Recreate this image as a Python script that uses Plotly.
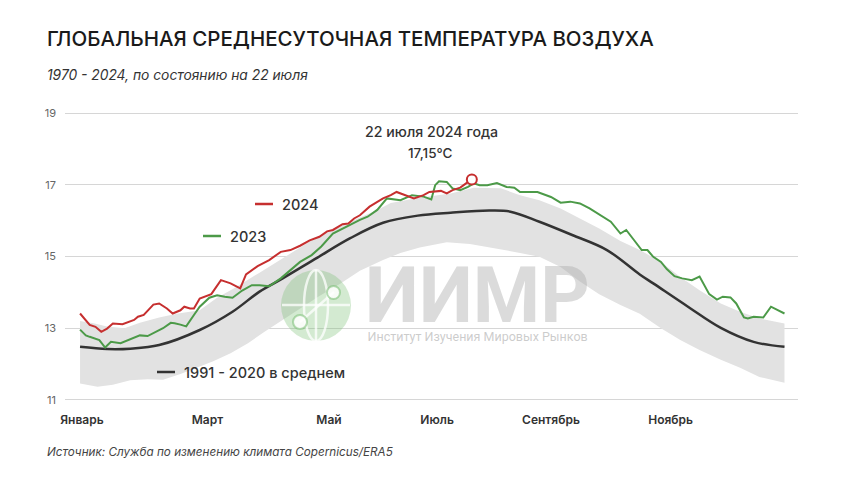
import plotly.graph_objects as go

# Day-of-year readings (1 = 1 January) and temperatures in °C
days_2024 = [1, 4, 6, 9, 12, 15, 18, 23, 26, 29, 31, 34, 39, 42, 46, 49, 53, 55, 58, 60,
             63, 69, 74, 79, 84, 87, 93, 99, 105, 110, 115, 120, 125, 129, 132, 137, 140,
             143, 146, 151, 158, 162, 165, 170, 174, 179, 182, 188, 191, 194, 198, 201, 204]
temp_2024 = [13.41, 13.23, 13.09, 13.04, 12.90, 12.99, 13.13, 13.11, 13.18, 13.23, 13.32,
             13.37, 13.66, 13.69, 13.55, 13.41, 13.50, 13.60, 13.55, 13.55, 13.83, 13.95,
             14.34, 14.25, 14.11, 14.50, 14.73, 14.90, 15.13, 15.18, 15.30, 15.45, 15.55,
             15.70, 15.74, 15.90, 15.92, 16.06, 16.15, 16.39, 16.62, 16.71, 16.80, 16.71,
             16.62, 16.71, 16.80, 16.83, 16.76, 16.85, 16.92, 17.04, 17.15]

days_2023 = [1, 4, 6, 11, 14, 17, 22, 27, 32, 36, 40, 44, 48, 50, 53, 56, 60, 63, 68, 72,
             76, 80, 85, 90, 94, 99, 105, 110, 115, 121, 126, 132, 137, 141, 146, 150, 155,
             160, 163, 167, 173, 179, 183, 185, 187, 191, 194, 198, 202, 205, 208, 212, 217,
             222, 226, 229, 233, 238, 245, 250, 255, 260, 265, 270, 276, 281, 284, 288, 292,
             295, 298, 302, 305, 309, 313, 318, 322, 327, 331, 334, 338, 341, 345, 347, 350,
             355, 359, 362, 366]
temp_2023 = [12.96, 12.80, 12.76, 12.67, 12.46, 12.62, 12.58, 12.70, 12.80, 12.78, 12.90,
             13.00, 13.15, 13.14, 13.10, 13.05, 13.37, 13.60, 13.85, 13.92, 13.88, 13.85,
             14.05, 14.20, 14.20, 14.17, 14.39, 14.62, 14.85, 15.04, 15.28, 15.64, 15.78,
             15.90, 16.02, 16.11, 16.30, 16.62, 16.59, 16.57, 16.71, 16.67, 16.59, 16.99,
             17.10, 17.08, 16.90, 16.85, 16.94, 17.04, 16.99, 16.99, 17.05, 16.94, 16.92,
             16.80, 16.80, 16.80, 16.66, 16.50, 16.53, 16.48, 16.34, 16.18, 15.97, 15.64,
             15.74, 15.46, 15.18, 15.18, 14.99, 14.85, 14.65, 14.45, 14.39, 14.34, 14.44,
             13.95, 13.80, 13.88, 13.86, 13.69, 13.30, 13.27, 13.32, 13.30, 13.60, 13.52,
             13.41]

days_mean = [1, 15, 27, 42, 63, 80, 94, 106, 124, 141, 158, 176, 193, 213, 224, 239, 256,
             274, 291, 298, 316, 333, 350, 366]
temp_mean = [12.48, 12.42, 12.43, 12.53, 12.95, 13.46, 14.02, 14.39, 14.97, 15.51, 15.94,
             16.14, 16.22, 16.28, 16.25, 15.97, 15.60, 15.18, 14.50, 14.25, 13.60, 13.01,
             12.62, 12.48]

# 1970 - 2024 range (grey band)
days_upper = [1, 8, 15, 24, 32, 42, 51, 63, 72, 82, 94, 106, 124, 141, 155, 162, 176, 193,
              205, 219, 229, 239, 250, 260, 270, 281, 291, 302, 312, 322, 333, 343, 353, 366]
temp_upper = [13.20, 13.14, 13.05, 13.00, 13.15, 13.30, 13.40, 13.50, 13.85, 14.15, 14.55,
              14.95, 15.55, 15.97, 16.30, 16.49, 16.63, 16.76, 16.92, 16.90, 16.71, 16.57,
              16.34, 16.06, 15.78, 15.43, 15.18, 14.85, 14.43, 14.06, 13.69, 13.46, 13.27,
              13.13]
days_lower = [1, 10, 18, 27, 36, 44, 53, 62, 70, 79, 88, 96, 105, 115, 125, 136, 146, 158,
              167, 177, 191, 203, 219, 229, 239, 250, 260, 270, 281, 291, 302, 312, 322, 333,
              343, 353, 366]
temp_lower = [11.46, 11.37, 11.42, 11.55, 11.58, 11.56, 11.72, 11.90, 12.08, 12.30, 12.58,
              12.88, 13.20, 13.55, 13.90, 14.25, 14.60, 14.90, 15.10, 15.25, 15.40, 15.35,
              15.20, 15.10, 14.99, 14.71, 14.30, 13.95, 13.65, 13.40, 13.00, 12.67, 12.39,
              12.12, 11.90, 11.64, 11.48]

month_labels = ["Январь", "Март", "Май", "Июль", "Сентябрь", "Ноябрь"]
y_ticks = [11, 13, 15, 17, 19]

RED = "#c62f2f"
GREEN = "#4c9a48"
DARK = "#333333"
BAND = "#e2e2e2"
FONT = "Inter"

# plot area in page pixels, used to place the free-floating labels;
# the page body adds an 8px margin around the figure
W, H, BODY = 860, 484, 8
PL, PR, PT, PB = 65, 798, 112, 401


def px(x):
    return (x - PL) / (PR - PL)


def py(y):
    return (PB - y) / (PB - PT)


fig = go.Figure()
fig.add_trace(go.Scatter(
    x=days_upper + days_lower[::-1], y=temp_upper + temp_lower[::-1],
    fill="toself", fillcolor=BAND, line=dict(width=0), mode="lines",
    hoverinfo="skip", name="1970 - 2024"))
fig.add_trace(go.Scatter(x=days_mean, y=temp_mean, mode="lines", name="1991 - 2020",
                         line=dict(color=DARK, width=2.5, shape="spline")))
fig.add_trace(go.Scatter(x=days_2023, y=temp_2023, mode="lines", name="2023",
                         line=dict(color=GREEN, width=2)))
fig.add_trace(go.Scatter(x=days_2024, y=temp_2024, mode="lines", name="2024",
                         line=dict(color=RED, width=2)))
fig.add_trace(go.Scatter(x=[days_2024[-1]], y=[temp_2024[-1]], mode="markers",
                         marker=dict(size=10, color="white", line=dict(color=RED, width=2))))

WHITE = "rgba(255,255,255,0.75)"
shapes = [
    # globe watermark
    dict(type="circle", x0=px(281), x1=px(351), y0=py(341), y1=py(270),
         fillcolor="rgba(120,190,115,0.33)", line=dict(width=0)),
    dict(type="circle", x0=px(304), x1=px(328), y0=py(341), y1=py(270),
         line=dict(color=WHITE, width=2.5)),
    dict(type="line", x0=px(316), x1=px(316), y0=py(341), y1=py(270),
         line=dict(color=WHITE, width=2.5)),
    dict(type="line", x0=px(282), x1=px(350), y0=py(305), y1=py(305),
         line=dict(color=WHITE, width=2.5)),
    dict(type="line", x0=px(300), x1=px(334), y0=py(322), y1=py(292),
         line=dict(color=WHITE, width=2.5)),
    dict(type="circle", x0=px(293), x1=px(307), y0=py(329), y1=py(315),
         fillcolor="rgba(255,255,255,0.85)", line=dict(color="rgba(120,190,115,0.55)", width=2)),
    dict(type="circle", x0=px(327), x1=px(340), y0=py(299), y1=py(286),
         fillcolor="rgba(255,255,255,0.85)", line=dict(color="rgba(120,190,115,0.55)", width=2)),
    # legend keys
    dict(type="line", x0=px(255), x1=px(273), y0=py(204), y1=py(204),
         line=dict(color=RED, width=2.5)),
    dict(type="line", x0=px(203), x1=px(221), y0=py(236), y1=py(236),
         line=dict(color=GREEN, width=2.5)),
    dict(type="line", x0=px(157), x1=px(175), y0=py(372), y1=py(372),
         line=dict(color=DARK, width=2.5)),
]
for s in shapes:
    s["xref"] = "paper"
    s["yref"] = "paper"

watermark = ("<span style='font-size:77px;color:rgba(170,170,170,0.42)'><b>ИИМР</b></span><br>"
             "<span style='font-size:12.5px;color:rgba(170,170,170,0.6)'>"
             "\u2009Институт Изучения Мировых Рынков</span>")

annotations = [
    dict(x=px(363), y=py(346), text=watermark, xanchor="left", yanchor="bottom",
         align="left", font=dict(size=14.6, family="Roboto")),
    dict(x=px(431), y=py(131), text="22 июля 2024 года",
         font=dict(size=14.2, color=DARK, weight=500)),
    dict(x=px(430), y=py(153), text="17,15°C",
         font=dict(size=13.5, color=DARK, weight=500)),
    dict(x=px(280), y=py(204), text="2024", xanchor="left",
         font=dict(size=14.5, color=DARK, weight=500)),
    dict(x=px(228), y=py(236), text="2023", xanchor="left",
         font=dict(size=14.5, color=DARK, weight=500)),
    dict(x=px(182), y=py(372), text="1991 - 2020 в среднем", xanchor="left",
         font=dict(size=14.5, color=DARK, weight=500)),
    dict(x=px(45), y=py(38), text="ГЛОБАЛЬНАЯ СРЕДНЕСУТОЧНАЯ ТЕМПЕРАТУРА ВОЗДУХА",
         xanchor="left", font=dict(size=20.5, color="#1a1a1a", weight=500)),
    dict(x=px(45), y=py(75), text="<i>1970 - 2024, по состоянию на 22 июля</i>",
         xanchor="left", font=dict(size=13.8, color=DARK)),
    dict(x=px(45), y=py(452), text="<i>Источник: Служба по изменению климата Copernicus/ERA5</i>",
         xanchor="left", font=dict(size=11.7, color="#444444")),
]
for a in annotations:
    a["xref"] = "paper"
    a["yref"] = "paper"
    a.setdefault("yanchor", "middle")
    a["showarrow"] = False

fig.update_layout(
    width=W - BODY, height=H - BODY,
    margin=dict(l=PL - BODY, r=W - PR, t=PT - BODY, b=H - PB),
    paper_bgcolor="white", plot_bgcolor="white",
    font=dict(family=FONT, color=DARK),
    showlegend=False,
    shapes=shapes,
    annotations=annotations,
)
fig.update_xaxes(
    range=[-6.8, 373], tickvals=[2, 67, 130, 186, 245, 307], ticktext=month_labels,
    showgrid=False, zeroline=False, showline=False,
    tickfont=dict(size=12, color=DARK, weight=600), ticklabelstandoff=10,
)
fig.update_yaxes(
    range=[10.97, 19.03], tickvals=y_ticks, showgrid=True, gridcolor="#d6d6d6",
    gridwidth=1, zeroline=False, showline=False,
    tickfont=dict(size=11, color="#666666"), ticklabelstandoff=8,
)

fig.write_html("out.html")
